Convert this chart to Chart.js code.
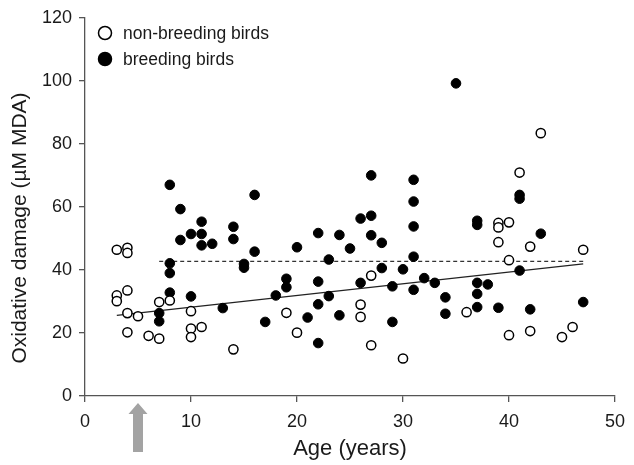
<!DOCTYPE html>
<html>
<head>
<meta charset="utf-8">
<script src="https://cdn.jsdelivr.net/npm/chart.js@4.4.0/dist/chart.umd.min.js"></script>
<style>
  html, body { margin: 0; padding: 0; background: #fff; }
</style>
</head>
<body>
<canvas id="chart" width="634" height="465"></canvas>
<script>
// non-breeding birds (open circles)
const nonBreedingAge = [3, 4, 4, 3, 3, 4, 4, 5, 4, 6, 7, 7, 8, 10, 10, 10, 11, 14, 19, 20, 26, 26, 27, 27, 30, 36, 40, 40, 42, 45, 46, 43, 41, 39, 39, 40, 39, 42, 47];
const nonBreedingDamage = [46.4, 47.0, 45.4, 31.9, 30.1, 33.5, 26.3, 25.3, 20.2, 19.1, 18.2, 29.8, 30.3, 26.9, 21.4, 18.7, 21.9, 14.8, 26.4, 20.1, 29.0, 25.1, 38.2, 16.1, 11.9, 26.6, 43.1, 19.3, 20.6, 18.7, 21.9, 83.4, 70.9, 54.9, 53.5, 55.1, 48.8, 47.4, 46.4];

// breeding birds (filled circles)
const breedingAge = [8, 7, 7, 8, 8, 10, 13, 17, 15, 15, 18, 8, 9, 11, 10, 11, 9, 11, 12, 14, 14, 16, 16, 27, 31, 31, 27, 26, 31, 22, 24, 27, 28, 20, 25, 23, 31, 28, 30, 19, 19, 22, 22, 23, 21, 22, 24, 26, 29, 29, 31, 32, 33, 34, 34, 41, 37, 38, 37, 37, 39, 42, 47, 35, 41, 41, 37, 37, 43];
const breedingDamage = [32.8, 26.3, 23.7, 39.0, 42.1, 31.6, 27.9, 23.5, 41.9, 40.7, 31.9, 67.0, 59.3, 55.3, 51.4, 51.4, 49.5, 47.8, 48.3, 53.7, 49.8, 63.8, 45.8, 70.0, 68.6, 61.7, 57.2, 56.3, 53.8, 51.7, 51.1, 51.0, 48.6, 47.2, 46.8, 43.3, 44.2, 40.6, 40.2, 37.2, 34.5, 36.3, 29.1, 31.7, 24.9, 16.8, 25.6, 35.9, 34.8, 23.5, 33.7, 37.4, 35.9, 31.3, 26.1, 39.8, 35.9, 35.4, 32.4, 28.2, 28.0, 27.5, 29.8, 99.2, 63.8, 62.6, 55.6, 54.3, 51.5];

// fitted lines
const breedingMeanAge = [7, 47];
const breedingMeanDamage = [42.7, 42.7];
const nonBreedingFitAge = [3, 47];
const nonBreedingFitDamage = [25.6, 41.9];

// arrow marking age under the x axis
const arrowAge = 5;

const xTicks = [0, 10, 20, 30, 40, 50];
const yTicks = [0, 20, 40, 60, 80, 100, 120];

const FONT = "'Liberation Sans', Arial, Helvetica, sans-serif";
Chart.defaults.font.family = FONT;
Chart.defaults.color = "#1a1a1a";

function toPoints(xs, ys) {
  return xs.map((x, i) => ({ x: x, y: ys[i] }));
}

// legend drawn inside the plot, top-left
const insideLegend = {
  id: "insideLegend",
  afterDraw(chart) {
    const { ctx } = chart;
    const items = [chart.data.datasets[0], chart.data.datasets[1]];
    ctx.save();
    ctx.font = "17.5px " + FONT;
    ctx.textBaseline = "middle";
    ctx.textAlign = "left";
    items.forEach((ds, i) => {
      const cy = 33 + i * 26;
      ctx.beginPath();
      ctx.arc(105, cy, 6.5, 0, Math.PI * 2);
      ctx.fillStyle = ds.backgroundColor;
      ctx.fill();
      ctx.lineWidth = 1.5;
      ctx.strokeStyle = "#000";
      ctx.stroke();
      ctx.fillStyle = "#1a1a1a";
      ctx.fillText(ds.label, 123, cy + 1);
    });
    ctx.restore();
  },
};

// grey arrow below the x axis + y axis title
const extras = {
  id: "extras",
  afterDraw(chart) {
    const { ctx, chartArea } = chart;
    const xs = chart.scales.x;
    const ax = xs.getPixelForValue(arrowAge);
    const top = chartArea.bottom + 7;
    ctx.save();
    ctx.fillStyle = "#a3a3a3";
    ctx.beginPath();
    ctx.moveTo(ax, top);
    ctx.lineTo(ax + 9.5, top + 11);
    ctx.lineTo(ax + 5, top + 11);
    ctx.lineTo(ax + 5, top + 49);
    ctx.lineTo(ax - 5, top + 49);
    ctx.lineTo(ax - 5, top + 11);
    ctx.lineTo(ax - 9.5, top + 11);
    ctx.closePath();
    ctx.fill();

    ctx.translate(20, 228);
    ctx.rotate(-Math.PI / 2);
    ctx.font = "21px " + FONT;
    ctx.fillStyle = "#1a1a1a";
    ctx.textAlign = "center";
    ctx.textBaseline = "middle";
    ctx.fillText("Oxidative damage (µM MDA)", 0, 0);
    ctx.restore();
  },
};

new Chart(document.getElementById("chart"), {
  type: "scatter",
  data: {
    datasets: [
      {
        label: "non-breeding birds",
        data: toPoints(nonBreedingAge, nonBreedingDamage),
        backgroundColor: "#ffffff",
        borderColor: "#000000",
        borderWidth: 1.5,
        pointRadius: 4.6,
      },
      {
        label: "breeding birds",
        data: toPoints(breedingAge, breedingDamage),
        backgroundColor: "#000000",
        borderColor: "#000000",
        borderWidth: 1,
        pointRadius: 4.8,
      },
      {
        label: "breeding mean",
        data: toPoints(breedingMeanAge, breedingMeanDamage),
        showLine: true,
        borderColor: "#333333",
        borderWidth: 1.2,
        borderDash: [4, 3],
        pointRadius: 0,
      },
      {
        label: "non-breeding fit",
        data: toPoints(nonBreedingFitAge, nonBreedingFitDamage),
        showLine: true,
        borderColor: "#222222",
        borderWidth: 1.2,
        pointRadius: 0,
      },
    ],
  },
  options: {
    responsive: false,
    animation: false,
    layout: { padding: { left: 0, right: 13, top: 17, bottom: 0 } },
    plugins: {
      legend: { display: false },
      tooltip: { enabled: false },
    },
    scales: {
      x: {
        type: "linear",
        min: 0,
        max: 50,
        afterBuildTicks: (scale) => {
          scale.ticks = xTicks.map((v) => ({ value: v }));
        },
        afterFit: (scale) => {
          scale.height = 69;
        },
        ticks: { font: { size: 18 }, padding: 9, color: "#1a1a1a" },
        grid: { drawOnChartArea: false, drawTicks: true, tickLength: 6, color: "#555", lineWidth: 1.3 },
        border: { color: "#555", width: 1.3 },
        title: {
          display: true,
          text: "Age (years)",
          font: { size: 22 },
          color: "#1a1a1a",
          padding: { top: 0, bottom: 3 },
        },
      },
      y: {
        type: "linear",
        min: 0,
        max: 120,
        afterBuildTicks: (scale) => {
          scale.ticks = yTicks.map((v) => ({ value: v }));
        },
        afterFit: (scale) => {
          scale.width = 85;
        },
        ticks: { font: { size: 18 }, padding: 7, color: "#1a1a1a" },
        grid: { drawOnChartArea: false, drawTicks: true, tickLength: 6, color: "#555", lineWidth: 1.3 },
        border: { color: "#555", width: 1.3 },
      },
    },
  },
  plugins: [insideLegend, extras],
});
</script>
</body>
</html>
